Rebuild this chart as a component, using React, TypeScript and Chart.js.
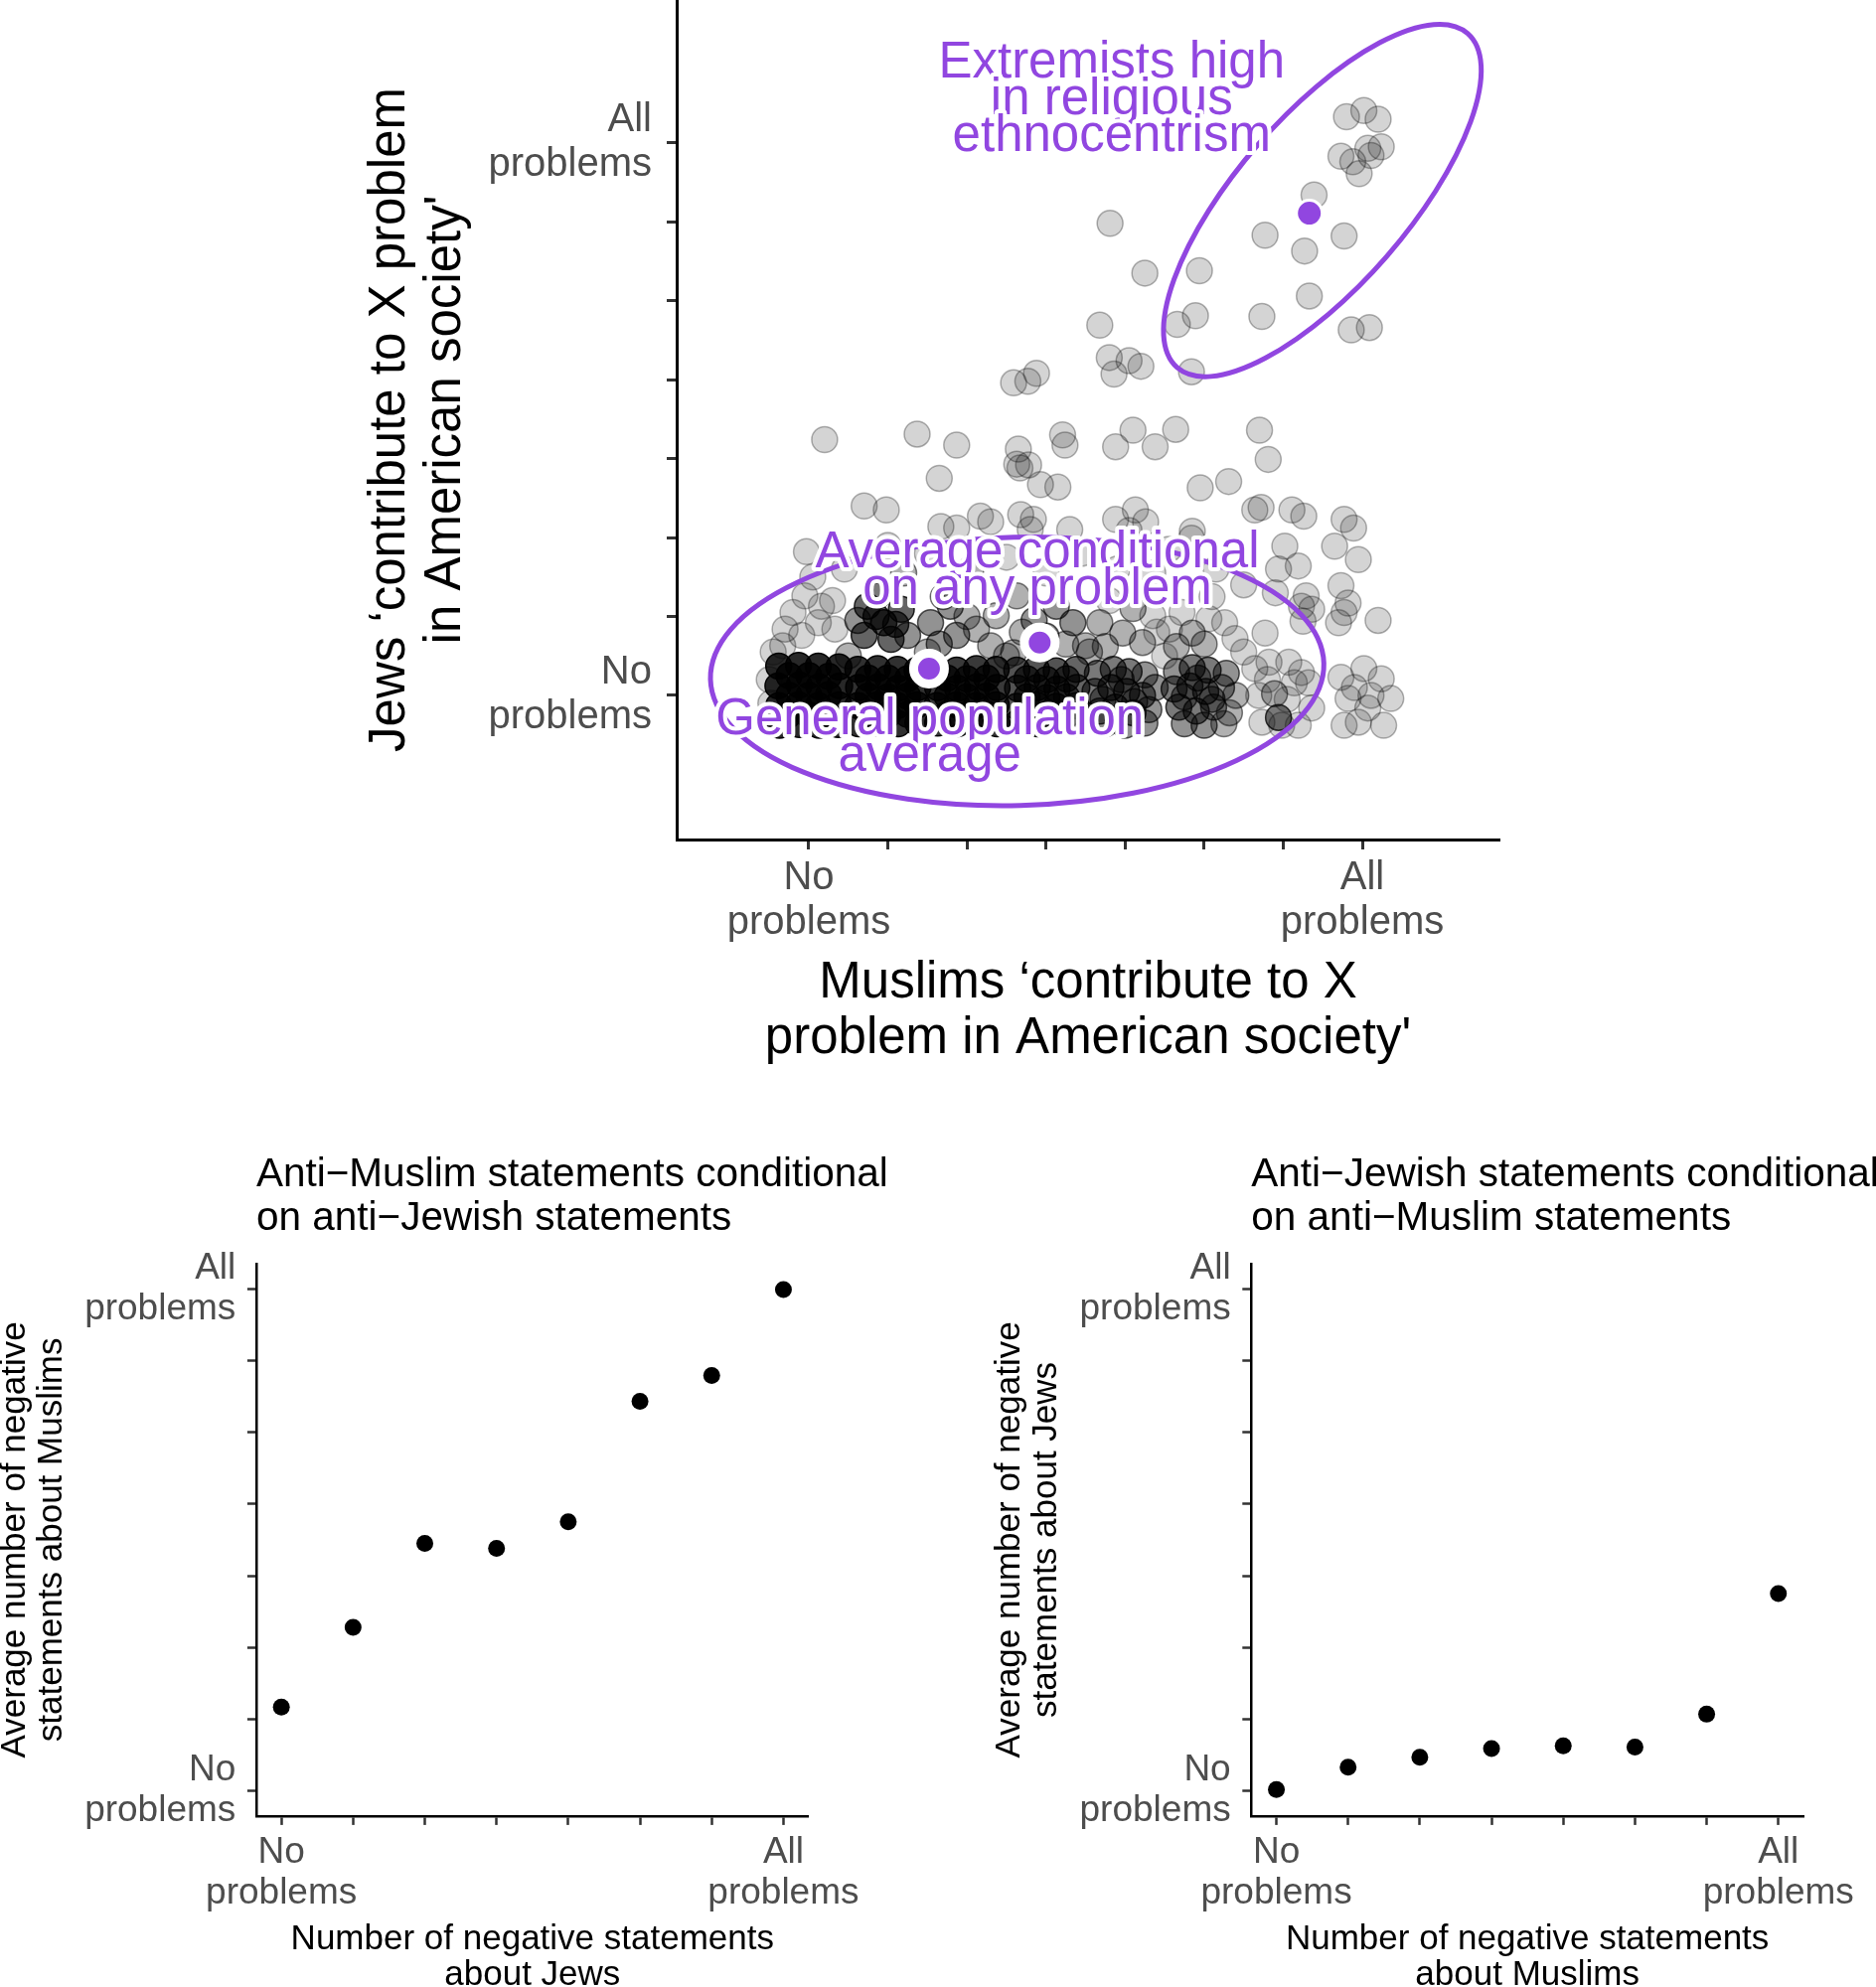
import React, { useEffect, useRef } from "react";
import { Chart, registerables } from "chart.js";

Chart.register(...registerables);

const FONT = "'Liberation Sans', Arial, Helvetica, sans-serif";
const PURPLE = "#9146E0";
const TICK_GREY = "#4D4D4D";

// ---------- shared 0..7 scale ("No problems" .. "All problems") ----------
const SCALE_STEPS = [0, 1, 2, 3, 4, 5, 6, 7];
const LOW_LABEL = ["No", "problems"];
const HIGH_LABEL = ["All", "problems"];

// ---------- top panel ----------
const TOP_X_TITLE = ["Muslims \u2018contribute to X", "problem in American society'"];
const TOP_Y_TITLE = ["Jews \u2018contribute to X problem", "in American society'"];

// respondents: [Muslim score (jittered), Jew score (jittered), overlapping respondents]
const RESPONDENTS: [number, number, number][] = [
  // extremist cluster and upper scatter
  [6.80, 7.33, 1], [7.02, 7.41, 1], [7.20, 7.30, 1],
  [6.73, 6.83, 1], [6.88, 6.76, 1], [6.96, 6.61, 1], [7.07, 6.93, 1], [7.24, 6.95, 1], [7.11, 6.84, 1],
  [6.39, 6.34, 1],
  [5.77, 5.83, 1], [6.77, 5.82, 1], [6.27, 5.63, 1], [4.94, 5.38, 1], [6.33, 5.06, 1],
  [4.89, 4.81, 1], [4.66, 4.70, 1], [5.73, 4.80, 1], [6.86, 4.63, 1], [7.09, 4.66, 1], [4.84, 4.10, 1],
  [3.81, 5.98, 1], [4.25, 5.35, 1], [3.68, 4.69, 1],
  [3.80, 4.28, 1], [4.05, 4.24, 1], [4.20, 4.17, 1], [3.86, 4.07, 1],
  [2.59, 3.96, 1], [2.77, 3.98, 1], [2.88, 4.08, 1],
  [0.20, 3.24, 1], [1.37, 3.31, 1], [1.87, 3.17, 1], [1.65, 2.75, 1],
  [2.65, 3.12, 1], [2.63, 2.93, 1], [2.78, 2.92, 1], [2.67, 2.88, 1], [2.93, 2.67, 1], [3.15, 2.64, 1],
  [3.21, 3.30, 1], [3.24, 3.17, 1], [3.88, 3.15, 1], [4.10, 3.36, 1], [4.38, 3.15, 1], [4.64, 3.37, 1],
  [5.70, 3.36, 1], [5.81, 2.99, 1], [4.95, 2.63, 1], [5.31, 2.71, 1],
  // around 2
  [0.70, 2.40, 1], [0.98, 2.35, 1], [1.67, 2.14, 1], [1.87, 2.12, 1], [2.17, 2.27, 1], [2.30, 2.20, 1],
  [2.68, 2.29, 1], [2.84, 2.23, 1], [2.80, 2.10, 1], [3.30, 2.10, 1], [3.88, 2.23, 1], [4.05, 2.09, 1],
  [4.13, 2.35, 1], [4.26, 2.20, 1], [4.85, 2.08, 1], [5.64, 2.35, 1], [5.72, 2.38, 1], [6.11, 2.35, 1],
  [6.26, 2.27, 1], [6.77, 2.23, 1], [6.89, 2.12, 1], [-0.03, 1.82, 1],
  [6.02, 1.89, 1], [6.19, 1.64, 1], [5.94, 1.60, 1], [6.65, 1.89, 1], [6.95, 1.72, 1], [4.84, 1.99, 1],
  [0.05, 1.50, 1], [0.45, 1.60, 1], [1.20, 1.55, 2], [1.50, 1.80, 1], [2.05, 1.60, 2], [2.50, 1.75, 1],
  [3.00, 1.55, 1], [3.45, 1.80, 1], [3.90, 1.60, 1], [4.35, 1.55, 1], [4.55, 1.85, 1], [5.15, 1.60, 1],
  [5.50, 1.40, 1], [1.00, 1.90, 1], [6.73, 1.39, 1], [6.29, 1.26, 1],
  // around 1
  [-0.05, 1.26, 1], [0.16, 1.13, 1], [-0.30, 0.84, 1], [-0.09, 0.76, 1], [0.12, 0.92, 1], [0.33, 0.84, 1],
  [-0.33, 0.63, 1], [0.30, 1.20, 1], [-0.20, 1.05, 1],
  [0.74, 1.13, 5], [0.95, 0.92, 6], [1.17, 1.09, 5], [0.70, 0.76, 5], [1.04, 0.71, 5], [1.25, 0.76, 3],
  [0.87, 1.26, 4], [0.85, 1.00, 6], [1.10, 0.90, 5], [0.62, 0.95, 3],
  [1.54, 0.92, 3], [1.79, 1.13, 3], [1.87, 0.76, 3], [2.12, 0.84, 2], [2.37, 1.01, 2], [2.30, 0.63, 2],
  [1.65, 0.65, 3], [2.00, 1.00, 2], [1.70, 1.25, 2],
  [2.63, 1.26, 2], [3.13, 1.13, 3], [3.34, 0.92, 3], [3.50, 0.63, 2], [2.59, 0.54, 2], [2.85, 0.95, 3],
  [3.00, 0.75, 3], [2.70, 0.80, 2], [3.25, 0.65, 2],
  [3.68, 0.92, 2], [3.97, 0.79, 2], [4.22, 0.67, 2], [4.35, 1.01, 1], [3.80, 1.20, 1], [4.10, 1.10, 2],
  [3.75, 0.62, 2], [4.40, 0.80, 1],
  [4.56, 0.84, 1], [4.85, 0.79, 2], [4.72, 1.05, 1], [5.06, 0.97, 1], [5.26, 0.92, 1], [5.39, 0.72, 1],
  [5.10, 1.25, 1], [4.65, 0.62, 2], [5.00, 0.65, 2],
  [5.77, 0.79, 1], [6.23, 1.13, 1], [6.36, 1.09, 1], [5.90, 1.30, 1], [6.25, 0.94, 1],
  [6.82, 1.17, 1], [6.77, 1.05, 1], [6.70, 0.92, 1], [7.20, 0.95, 1],
  // fringe of the zero row
  [-0.50, 0.20, 1], [-0.48, -0.10, 1], [-0.45, 0.55, 1], [0.50, 0.50, 2], [1.50, 0.55, 2], [2.50, 0.50, 2],
  [3.55, 0.55, 2], [4.50, 0.50, 1], [5.50, 0.55, 1],
  // zero row: Muslims 0
  [-0.38, 0.37, 10], [-0.13, 0.38, 10], [0.12, 0.37, 10], [0.38, 0.36, 10],
  [-0.39, 0.12, 10], [-0.12, 0.13, 10], [0.13, 0.11, 10], [0.39, 0.12, 10],
  [-0.38, -0.13, 10], [-0.13, -0.12, 10], [0.12, -0.13, 10], [0.38, -0.12, 10],
  [-0.37, -0.38, 10], [-0.12, -0.37, 10], [0.13, -0.38, 10], [0.37, -0.37, 10],
  [-0.25, 0.25, 10], [0.00, 0.25, 10], [0.25, 0.24, 10],
  [-0.25, 0.00, 10], [0.00, 0.00, 10], [0.25, 0.01, 10],
  [-0.26, -0.25, 10], [0.00, -0.25, 10], [0.25, -0.26, 10],
  // Muslims 1
  [0.62, 0.33, 9], [0.87, 0.34, 9], [1.12, 0.33, 9], [1.37, 0.32, 9],
  [0.63, 0.10, 9], [0.88, 0.11, 9], [1.13, 0.09, 9], [1.38, 0.10, 9],
  [0.62, -0.13, 9], [0.87, -0.12, 9], [1.12, -0.13, 9], [1.37, -0.12, 9],
  [0.63, -0.36, 9], [0.88, -0.35, 9], [1.13, -0.36, 9], [1.38, -0.35, 9],
  [0.75, 0.22, 9], [1.00, 0.22, 9], [1.25, 0.21, 9],
  [0.75, -0.01, 9], [1.00, -0.02, 9], [1.25, -0.01, 9],
  [0.75, -0.24, 9], [1.00, -0.25, 9], [1.25, -0.24, 9],
  // Muslims 2
  [1.62, 0.33, 8], [1.87, 0.32, 8], [2.12, 0.34, 8], [2.37, 0.33, 8],
  [1.63, 0.10, 8], [1.88, 0.09, 8], [2.13, 0.11, 8], [2.38, 0.10, 8],
  [1.62, -0.13, 8], [1.87, -0.12, 8], [2.12, -0.13, 8], [2.37, -0.12, 8],
  [1.63, -0.35, 8], [1.88, -0.36, 8], [2.13, -0.35, 8], [2.38, -0.36, 8],
  [1.75, 0.22, 8], [2.00, 0.21, 8], [2.25, 0.22, 8],
  [1.75, -0.01, 8], [2.00, -0.02, 8], [2.25, -0.01, 8],
  [1.75, -0.24, 8], [2.00, -0.25, 8], [2.25, -0.24, 8],
  // Muslims 3
  [2.63, 0.32, 6], [2.88, 0.33, 6], [3.13, 0.31, 6], [3.38, 0.33, 5],
  [2.64, 0.09, 6], [2.89, 0.10, 6], [3.14, 0.08, 6], [3.39, 0.10, 5],
  [2.63, -0.14, 6], [2.88, -0.12, 6], [3.13, -0.14, 6], [3.38, -0.13, 5],
  [2.64, -0.35, 6], [2.89, -0.36, 6], [3.14, -0.35, 5], [3.37, -0.36, 5],
  [2.76, 0.21, 6], [3.01, 0.20, 6], [3.26, 0.21, 5],
  [2.76, -0.02, 6], [3.01, -0.03, 6], [3.26, -0.02, 5],
  [2.76, -0.25, 6], [3.01, -0.24, 6], [3.26, -0.25, 5],
  // Muslims 4
  [3.65, 0.28, 4], [3.85, 0.33, 4], [4.05, 0.30, 4], [4.25, 0.26, 3], [4.38, 0.10, 3],
  [3.62, 0.05, 4], [3.82, 0.10, 5], [4.02, 0.05, 5], [4.22, 0.00, 4],
  [3.68, -0.20, 4], [3.88, -0.15, 5], [4.10, -0.22, 4], [4.30, -0.18, 3],
  [3.75, -0.36, 3], [4.00, -0.38, 3], [4.25, -0.35, 3],
  [3.95, 0.20, 3], [3.72, -0.05, 3], [4.12, -0.08, 3],
  // Muslims 5
  [4.65, 0.30, 3], [4.85, 0.35, 4], [5.05, 0.32, 4], [5.28, 0.28, 3],
  [4.62, 0.08, 4], [4.82, 0.12, 4], [5.02, 0.05, 4], [5.22, 0.10, 3], [5.40, 0.00, 2],
  [4.68, -0.15, 4], [4.90, -0.20, 4], [5.12, -0.15, 3], [5.32, -0.22, 2],
  [4.75, -0.36, 3], [5.00, -0.38, 3], [5.25, -0.36, 2],
  [4.92, 0.22, 3], [4.75, -0.02, 3], [5.10, -0.05, 3],
  // Muslims 6
  [5.64, 0.34, 1], [5.82, 0.42, 1], [6.07, 0.42, 1], [6.23, 0.29, 1], [5.69, 0.00, 1], [5.89, 0.02, 2],
  [6.14, 0.16, 1], [6.32, 0.16, 1], [5.73, -0.34, 1], [5.98, -0.38, 1], [6.19, -0.38, 1], [6.36, -0.16, 1],
  [5.94, -0.28, 4], [6.05, -0.05, 1], [5.80, 0.20, 1],
  // Muslims 7
  [6.73, 0.23, 1], [7.02, 0.34, 1], [7.24, 0.21, 1], [7.36, -0.04, 1], [6.82, -0.04, 1], [7.07, -0.16, 1],
  [6.77, -0.38, 1], [6.95, -0.34, 1], [7.27, -0.38, 1], [7.11, 0.00, 1], [6.90, 0.10, 1],
];

// group means: extremists, general population, conditional on any problem
const MEAN_X = [6.33, 1.52, 2.92];
const MEAN_Y = [6.11, 0.34, 0.67];

const EXTREMIST_LABEL = ["Extremists high", "in religious", "ethnocentrism"];
const CONDITIONAL_LABEL = ["Average conditional", "on any problem"];
const GENERAL_LABEL = ["General population", "average"];

// ---------- bottom panels ----------
const NEG_STATEMENT_STEPS = [0, 1, 2, 3, 4, 5, 6, 7];
const AVG_ANTI_MUSLIM = [1.17, 2.28, 3.45, 3.38, 3.75, 5.43, 5.79, 6.99];
const AVG_ANTI_JEWISH = [0.02, 0.33, 0.47, 0.59, 0.63, 0.61, 1.07, 2.75];

const LEFT_TITLE = ["Anti\u2212Muslim statements conditional", "on anti\u2212Jewish statements"];
const LEFT_X_TITLE = ["Number of negative statements", "about Jews"];
const LEFT_Y_TITLE = ["Average number of negative", "statements about Muslims"];
const RIGHT_TITLE = ["Anti\u2212Jewish statements conditional", "on anti\u2212Muslim statements"];
const RIGHT_X_TITLE = ["Number of negative statements", "about Muslims"];
const RIGHT_Y_TITLE = ["Average number of negative", "statements about Jews"];

// ---------- helpers ----------
const stepTicks = (scale: any) => {
  scale.ticks = SCALE_STEPS.map((v) => ({ value: v }));
};
const endLabel = (v: number) =>
  v === SCALE_STEPS[0] ? LOW_LABEL : v === SCALE_STEPS[SCALE_STEPS.length - 1] ? HIGH_LABEL : "";

function makeAxis(o: any) {
  return {
    type: "linear",
    min: o.min,
    max: o.max,
    afterBuildTicks: stepTicks,
    afterFit: (s: any) => {
      if (o.horizontal) s.height = o.size;
      else s.width = o.size;
      s.paddingLeft = 0;
      s.paddingRight = 0;
      s.paddingTop = 0;
      s.paddingBottom = 0;
    },
    border: { display: true, color: "#000", width: o.axisWidth },
    grid: {
      display: true,
      drawOnChartArea: false,
      drawTicks: true,
      tickLength: o.tickLen,
      tickWidth: o.axisWidth,
      tickColor: "#333",
    },
    ticks: {
      autoSkip: false,
      maxRotation: 0,
      minRotation: 0,
      padding: o.tickPad,
      color: TICK_GREY,
      font: { family: FONT, size: o.tickFont, lineHeight: o.tickLH },
      callback: (v: any) => endLabel(Number(v)),
    },
    title: {
      display: true,
      text: o.title,
      color: "#000",
      padding: 0,
      font: { family: FONT, size: o.titleFont, lineHeight: o.titleLH },
    },
  };
}

const overlayPlugin = {
  id: "overlay",
  afterDatasetsDraw(chart: any) {
    const { ctx } = chart;
    const xs = chart.scales.x;
    const ys = chart.scales.y;
    const ellipses = [
      { cx: 6.495, cy: 6.27, rx: 2.8, ry: 1.08, angle: 49 },
      { cx: 2.635, cy: 0.305, rx: 3.88, ry: 1.7, angle: 1.5 },
    ];
    ctx.save();
    ctx.strokeStyle = PURPLE;
    ctx.lineWidth = 5;
    for (const e of ellipses) {
      const cx = xs.getPixelForValue(e.cx);
      const cy = ys.getPixelForValue(e.cy);
      const rx = Math.abs(xs.getPixelForValue(e.cx + e.rx) - cx);
      const ry = Math.abs(ys.getPixelForValue(e.cy + e.ry) - cy);
      ctx.beginPath();
      ctx.ellipse(cx, cy, rx, ry, (-e.angle * Math.PI) / 180, 0, Math.PI * 2);
      ctx.stroke();
    }
    const labels = [
      { x: 3.83, y: 7.83, lines: EXTREMIST_LABEL },
      { x: 2.89, y: 1.62, lines: CONDITIONAL_LABEL },
      { x: 1.53, y: -0.49, lines: GENERAL_LABEL },
    ];
    ctx.font = `51px ${FONT}`;
    ctx.textAlign = "center";
    ctx.textBaseline = "alphabetic";
    ctx.lineJoin = "round";
    for (const l of labels) {
      const px = xs.getPixelForValue(l.x);
      const py0 = ys.getPixelForValue(l.y);
      l.lines.forEach((line, i) => {
        const py = py0 + i * 37;
        ctx.strokeStyle = "#fff";
        ctx.lineWidth = 8;
        ctx.strokeText(line, px, py);
        ctx.fillStyle = PURPLE;
        ctx.fillText(line, px, py);
      });
    }
    ctx.restore();
  },
};

function topConfig(): any {
  return {
    type: "scatter",
    data: {
      datasets: [
        {
          label: "Group averages",
          data: MEAN_X.map((x, i) => ({ x, y: MEAN_Y[i] })),
          pointRadius: [13, 15.5, 15.5],
          pointBorderWidth: [3, 9, 9],
          pointBackgroundColor: PURPLE,
          pointBorderColor: "#fff",
          order: 0,
        },
        {
          label: "Respondents",
          data: RESPONDENTS.map(([x, y, w]) => ({ x, y, w })),
          pointRadius: 13,
          pointBorderWidth: 1.5,
          pointBackgroundColor: (c: any) => `rgba(0,0,0,${(1 - Math.pow(0.83, c.raw ? c.raw.w : 1)).toFixed(3)})`,
          pointBorderColor: (c: any) => `rgba(0,0,0,${(1 - Math.pow(0.7, c.raw ? c.raw.w : 1)).toFixed(3)})`,
          order: 1,
        },
      ],
    },
    options: {
      responsive: false,
      animation: false,
      devicePixelRatio: 1,
      events: [],
      layout: { autoPadding: false, padding: { left: 364.5, right: 379, top: 0, bottom: 26 } },
      plugins: { legend: { display: false }, tooltip: { enabled: false } },
      scales: {
        x: makeAxis({
          min: -1.671, max: 8.734, horizontal: true, size: 229, axisWidth: 3, tickLen: 10, tickPad: 6.5,
          tickFont: 40, tickLH: 1.125, title: TOP_X_TITLE, titleFont: 51, titleLH: 1.1,
        }),
        y: makeAxis({
          min: -1.826, max: 8.81, horizontal: false, size: 316.5, axisWidth: 3, tickLen: 10, tickPad: 15,
          tickFont: 40, tickLH: 1.125, title: TOP_Y_TITLE, titleFont: 51, titleLH: 1.1,
        }),
      },
    },
    plugins: [overlayPlugin],
  };
}

function panelConfig(o: any): any {
  const titlePlugin = {
    id: "panelTitle",
    afterDraw(chart: any) {
      const { ctx, chartArea } = chart;
      ctx.save();
      ctx.font = `40.5px ${FONT}`;
      ctx.fillStyle = "#000";
      ctx.textAlign = "left";
      ctx.textBaseline = "middle";
      o.title.forEach((line: string, i: number) => {
        ctx.fillText(line, chartArea.left, chartArea.top - 89.3 + i * 44.6);
      });
      ctx.restore();
    },
  };
  return {
    type: "scatter",
    data: {
      datasets: [
        {
          label: "Average",
          data: NEG_STATEMENT_STEPS.map((x, i) => ({ x, y: o.values[i] })),
          pointRadius: 8.5,
          pointBorderWidth: 0,
          pointBackgroundColor: "#000",
        },
      ],
    },
    options: {
      responsive: false,
      animation: false,
      devicePixelRatio: 1,
      events: [],
      layout: { autoPadding: false, padding: { left: o.padLeft, right: o.padRight, top: 171.9, bottom: 14 } },
      plugins: { legend: { display: false }, tooltip: { enabled: false } },
      scales: {
        x: makeAxis({
          min: -0.35, max: 7.35, horizontal: true, size: 178.1, axisWidth: 2.5, tickLen: 9, tickPad: 7.5,
          tickFont: 37, tickLH: 1.108, title: o.xTitle, titleFont: 35, titleLH: 1.03,
        }),
        y: makeAxis({
          min: -0.35, max: 7.35, horizontal: false, size: o.yWidth, axisWidth: 2.5, tickLen: 9, tickPad: 11.6,
          tickFont: 37, tickLH: 1.108, title: o.yTitle, titleFont: 35, titleLH: 1.06,
        }),
      },
    },
    plugins: [titlePlugin],
  };
}

export default function App() {
  const topRef = useRef<HTMLCanvasElement>(null);
  const leftRef = useRef<HTMLCanvasElement>(null);
  const rightRef = useRef<HTMLCanvasElement>(null);

  useEffect(() => {
    const charts = [
      new Chart(topRef.current as HTMLCanvasElement, topConfig()),
      new Chart(
        leftRef.current as HTMLCanvasElement,
        panelConfig({
          values: AVG_ANTI_MUSLIM, title: LEFT_TITLE, xTitle: LEFT_X_TITLE, yTitle: LEFT_Y_TITLE,
          padLeft: 6.8, padRight: 146.3, yWidth: 261.1,
        })
      ),
      new Chart(
        rightRef.current as HTMLCanvasElement,
        panelConfig({
          values: AVG_ANTI_JEWISH, title: RIGHT_TITLE, xTitle: RIGHT_X_TITLE, yTitle: RIGHT_Y_TITLE,
          padLeft: 54, padRight: 73, yWidth: 261.3,
        })
      ),
    ];
    return () => charts.forEach((c) => c.destroy());
  }, []);

  return (
    <div
      style={{
        position: "absolute", left: 0, top: 0, width: 1888, height: 2000,
        overflow: "hidden", background: "#fff",
      }}
    >
      <canvas ref={topRef} width={1888} height={1100}
        style={{ position: "absolute", left: 0, top: 0, width: 1888, height: 1100 }} />
      <canvas ref={leftRef} width={970} height={920}
        style={{ position: "absolute", left: -10, top: 1100, width: 970, height: 920 }} />
      <canvas ref={rightRef} width={944} height={920}
        style={{ position: "absolute", left: 944, top: 1100, width: 944, height: 920 }} />
    </div>
  );
}
